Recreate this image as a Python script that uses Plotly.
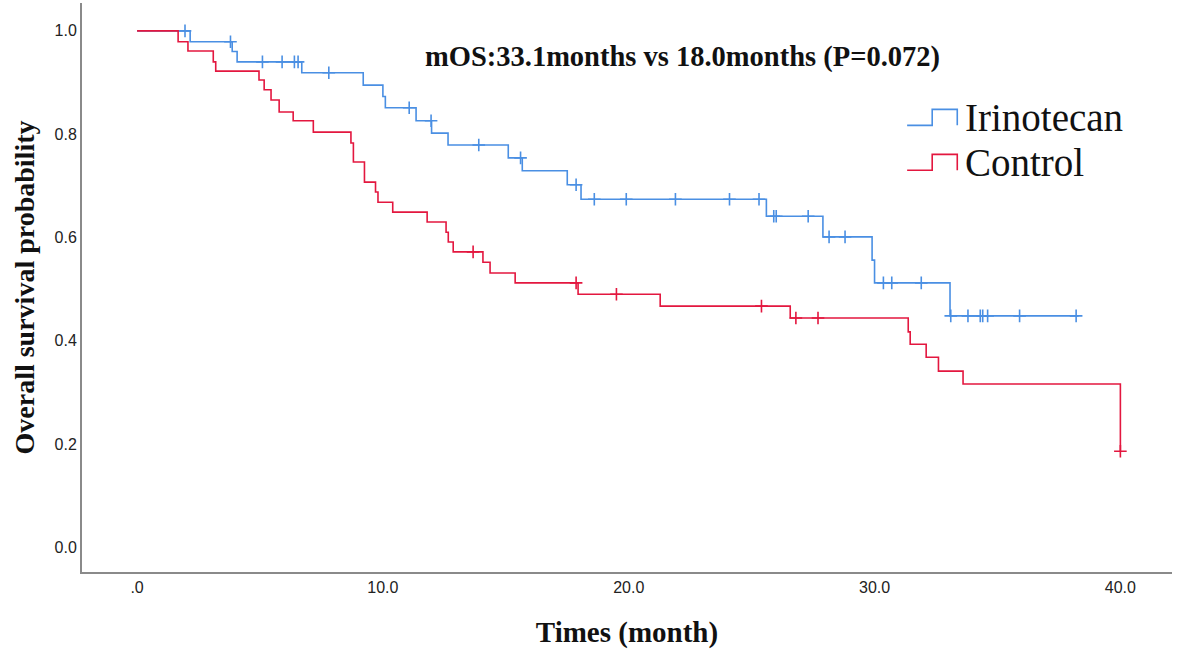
import numpy as np
import plotly.graph_objects as go

# Kaplan-Meier steps (time in months, survival)
irino_t = [0, 2.16, 3.87, 4.07, 6.7, 9.2, 10.0, 10.1, 11.35, 11.98, 12.65, 15.1, 15.67,
           17.5, 18.06, 25.6, 27.9, 29.9, 30.0, 33.07, 38.3]
irino_s = [1.0, 0.979, 0.960, 0.940, 0.919, 0.895, 0.873, 0.851, 0.826, 0.802, 0.779, 0.754, 0.729,
           0.702, 0.674, 0.641, 0.601, 0.556, 0.512, 0.448, 0.448]
irino_cens = [1.95, 3.8, 5.1, 5.9, 6.4, 6.55, 7.8, 11.07, 11.96, 13.9, 15.6, 17.86, 18.6, 19.9,
              21.9, 24.1, 25.3, 25.9, 26.0, 27.3, 28.15, 28.8, 30.36, 30.7, 31.9, 33.1, 33.8,
              34.3, 34.4, 34.6, 35.9, 38.2]

ctrl_t = [0, 1.67, 2.07, 3.1, 3.2, 4.96, 5.17, 5.45, 5.78, 6.35, 7.17, 8.7, 8.8, 9.25, 9.7, 9.8,
          10.4, 11.8, 12.57, 12.66, 12.86, 14.07, 14.36, 15.38, 17.94, 21.28, 26.57, 31.37, 31.45,
          32.1, 32.6, 33.6, 40.0]
ctrl_s = [1.0, 0.979, 0.961, 0.940, 0.922, 0.905, 0.886, 0.866, 0.843, 0.826, 0.804, 0.783, 0.746,
          0.707, 0.688, 0.668, 0.649, 0.630, 0.610, 0.591, 0.572, 0.552, 0.531, 0.512, 0.490, 0.467,
          0.444, 0.417, 0.393, 0.368, 0.341, 0.316, 0.186]
ctrl_cens = [13.67, 17.86, 19.5, 25.4, 26.8, 27.7, 40.0]

x_ticks = [0, 10, 20, 30, 40]
x_tick_text = [".0", "10.0", "20.0", "30.0", "40.0"]
y_ticks = [0, 0.2, 0.4, 0.6, 0.8, 1.0]
y_tick_text = ["0.0", "0.2", "0.4", "0.6", "0.8", "1.0"]

BLUE = "#4a8fe3"
RED = "#e3173f"


def surv_at(times, surv, t):
    idx = np.searchsorted(np.array(times), np.array(t), side="right") - 1
    return np.array(surv)[idx]


fig = go.Figure()
for t, s, cens, color in [(irino_t, irino_s, irino_cens, BLUE), (ctrl_t, ctrl_s, ctrl_cens, RED)]:
    fig.add_trace(go.Scatter(x=t, y=s, mode="lines", line=dict(color=color, width=1.6, shape="hv"),
                             showlegend=False, hoverinfo="skip"))
    fig.add_trace(go.Scatter(x=cens, y=surv_at(t, s, cens), mode="markers",
                             marker=dict(symbol="cross-thin", size=9, line=dict(color=color, width=1.6)),
                             showlegend=False))

# hand-drawn legend with step icons
legend_items = [("Irinotecan", BLUE, 0.799), ("Control", RED, 0.720)]
shapes = []
annotations = []
for name, color, yc in legend_items:
    x0, x1, x2 = 0.757, 0.780, 0.803
    lo, hi = yc - 0.014, yc + 0.014
    shapes.append(dict(type="path", xref="paper", yref="paper",
                       path=f"M {x0} {lo} L {x1} {lo} L {x1} {hi} L {x2} {hi} L {x2} {lo}",
                       line=dict(color=color, width=1.6)))
    annotations.append(dict(text=name, xref="paper", yref="paper", x=0.808, y=yc,
                            xanchor="left", yanchor="middle", showarrow=False,
                            font=dict(family="Liberation Serif", size=39, color="#111")))

annotations.append(dict(text="<b>mOS:33.1months vs 18.0months (P=0.072)</b>", xref="paper", yref="paper",
                        x=0.551, y=0.905, xanchor="center", yanchor="middle", showarrow=False,
                        font=dict(family="Liberation Serif", size=28.5, color="#111")))

fig.update_layout(
    width=1181, height=659,
    margin=dict(l=82, r=9, t=3, b=87),
    paper_bgcolor="white", plot_bgcolor="white",
    shapes=shapes, annotations=annotations,
    xaxis=dict(range=[-2.24, 42.1], tickvals=x_ticks, ticktext=x_tick_text, showgrid=False,
               zeroline=False, showline=True, linecolor="#8a8a8a", linewidth=2, ticks="",
               tickfont=dict(family="Liberation Sans", size=16, color="#222"),
               title=dict(text="<b>Times (month)</b>", standoff=26,
                          font=dict(family="Liberation Serif", size=29, color="#111"))),
    yaxis=dict(range=[-0.048, 1.054], tickvals=y_ticks, ticktext=y_tick_text, showgrid=False,
               zeroline=False, showline=True, linecolor="#8a8a8a", linewidth=2, ticks="",
               tickfont=dict(family="Liberation Sans", size=16, color="#222"),
               title=dict(text="<b>Overall survival probability</b>", standoff=12,
                          font=dict(family="Liberation Serif", size=28, color="#111"))),
)

fig.write_html("out.html", config={"displayModeBar": False},
               post_script="document.body.style.margin='0';")
